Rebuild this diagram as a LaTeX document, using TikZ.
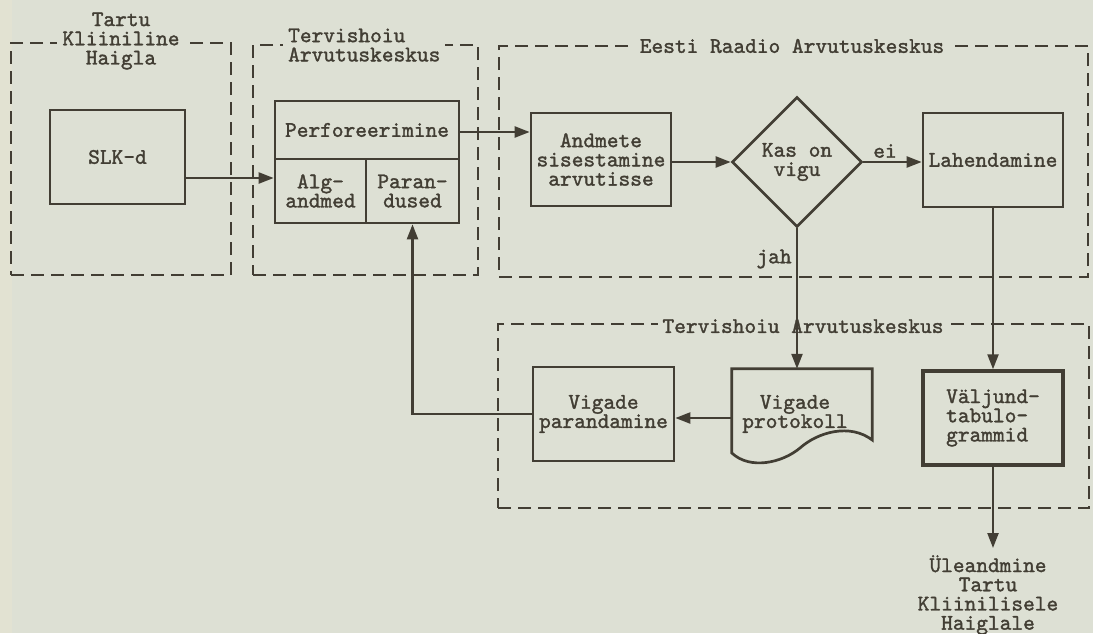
\documentclass[tikz,border=0pt]{standalone}
\usepackage{fontspec}
\usetikzlibrary{arrows.meta,shapes.geometric}
\definecolor{paper}{RGB}{221,224,212}
\definecolor{paperedge}{RGB}{226,226,210}
\definecolor{ink}{RGB}{66,62,52}
\newfontfamily\twfont[FakeBold=1.5]{lmmono10-regular.otf}
\newcommand{\diagfont}{\twfont\fontsize{22.3}{19.2}\selectfont}
\setlength{\lineskiplimit}{-100pt}
\begin{document}
\begin{tikzpicture}[x=1pt,y=-1pt,
  every node/.style={font=\diagfont, text=ink},
  grp/.style={draw=ink, line width=2.4pt, dash pattern=on 13pt off 7pt, inner sep=0pt},
  grplabel/.style={fill=paper, inner xsep=5pt, inner ysep=1pt},
  procbox/.style={draw=ink, line width=2.7pt, inner sep=0pt, align=center},
  conn/.style={draw=ink, line width=2.3pt},
  arr/.style={conn, -{Triangle[length=15pt,width=11pt]}}
]
\fill[paper] (0,0) rectangle (1093,633);
\fill[paperedge] (0,0) rectangle (12,633);
\useasboundingbox (0,0) rectangle (1093,633);

% group frames
\node[grp, minimum width=220pt, minimum height=232pt] (g1) at (121,159) {};
\node[grp, minimum width=225pt, minimum height=230pt] (g2) at (365.5,160) {};
\node[grp, minimum width=589pt, minimum height=231pt] (g3) at (793.5,161.5) {};
\node[grp, minimum width=591pt, minimum height=184pt] (g4) at (793.5,416) {};

% group labels
\node[grplabel, align=center] (l1) at (121,41) {Tartu\\Kliiniline\\Haigla};
\node[grplabel, align=left, anchor=west] (l2) at (283,45) {Tervishoiu\\Arvutuskeskus};
\node[grplabel] (l3) at (792,46) {Eesti Raadio Arvutuskeskus};
\node[grplabel] (l4) at (803,326) {Tervishoiu Arvutuskeskus};

% process boxes
\node[procbox, minimum width=135pt, minimum height=94pt] (slk) at (117.5,157) {SLK-d};
\node[procbox, minimum width=184pt, minimum height=58pt] (perf) at (367,130) {Perforeerimine};
\node[procbox, minimum width=91pt, minimum height=64pt] (alg) at (320.5,191) {Alg-\\andmed};
\node[procbox, minimum width=93pt, minimum height=64pt] (par) at (412.5,191) {Paran-\\dused};

\node[procbox, minimum width=140pt, minimum height=93pt] (andm) at (601,159.5) {Andmete\\sisestamine\\arvutisse};
\node[procbox, diamond, aspect=1, minimum width=130pt, minimum height=130pt] (diam) at (797,162) {Kas on\\vigu};
\node[procbox, minimum width=140pt, minimum height=94pt] (lah) at (993,160) {Lahendamine};

\node[procbox, minimum width=141pt, minimum height=94pt] (vp) at (603.5,414) {Vigade\\parandamine};
\node[inner sep=0pt, minimum width=140pt, minimum height=84pt] (prot) at (802,411) {};
\draw[ink, line width=2.7pt, line join=miter]
  (prot.north west) -- (prot.north east) -- (prot.north east |- 0,440)
  .. controls (850,423) and (818,432) .. (800,448)
  .. controls (782,463) and (750,470) .. (prot.north west |- 0,453) -- cycle;
\node[align=center] (prott) at (795,414) {Vigade\\protokoll};
\node[procbox, line width=3.5pt, minimum width=140pt, minimum height=94pt, align=left] (valj) at (993,418) {V\"aljund-\\tabulo-\\grammid};

\coordinate (outend) at (993,548);
\node[align=center] (ule) at (988,595) {\"Uleandmine\\Tartu\\Kliinilisele\\Haiglale};

% connectors
\draw[arr] (slk.east |- 0,178) -- (alg.west |- 0,178);
\draw[arr] (perf.east |- 0,132) -- (andm.west |- 0,132);
\draw[arr] (andm.east |- diam.west) -- (diam.west);
\draw[arr] (diam.east) -- (lah.west |- diam.east);
\node (ei) at (885,151) {ei};
\draw[arr] (diam.south) -- (diam.south |- prot.north);
\node (jah) at (774,259) {jah};
\draw[arr] (lah.south) -- (valj.north);
\draw[arr] (prot.west |- 0,418) -- (vp.east |- 0,418);
\draw[arr] (vp.west) -| (par.south);
\draw[arr] (valj.south) -- (outend);
\end{tikzpicture}
\end{document}
